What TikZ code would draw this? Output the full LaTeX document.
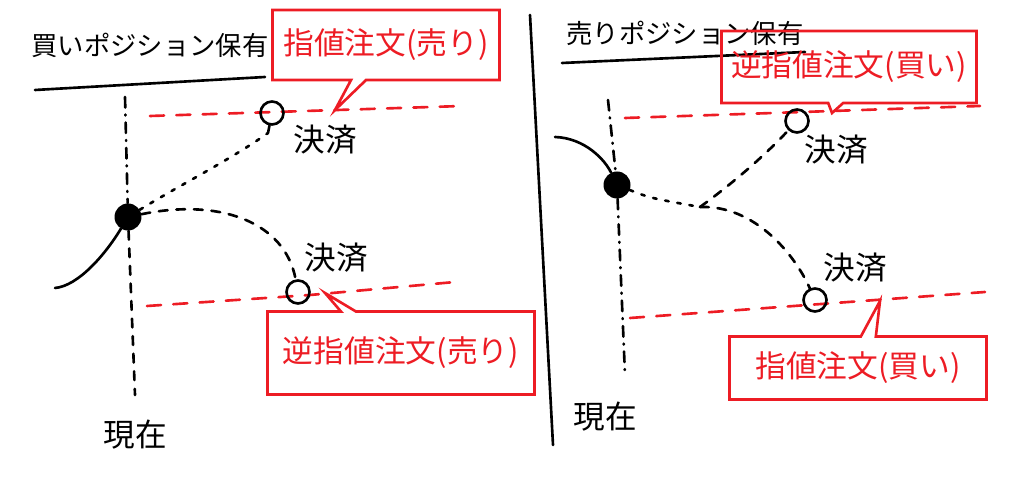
\documentclass[tikz,border=0pt]{standalone}
\usepackage{fontspec}
\setmainfont{Noto Sans CJK JP}
\usetikzlibrary{positioning,shapes.callouts}
\definecolor{penred}{RGB}{237,28,36}

\begin{document}
\begin{tikzpicture}[
    x=0.02cm, y=-0.02cm,
    pen/.style={line width=1.5pt, line cap=round},
    chain/.style={pen, dash pattern=on 6pt off 4pt on 0.5pt off 4pt},
    dashes/.style={pen, dash pattern=on 5pt off 5pt},
    dots/.style={pen, dash pattern=on 2pt off 5pt},
    level/.style={pen, penred, dash pattern=on 8pt off 7pt},
    title/.style={font=\fontsize{15}{17}\selectfont, inner sep=1pt},
    label/.style={font=\fontsize{18}{20}\selectfont, inner sep=1pt},
    now/.style={circle, fill, minimum size=0.54cm, inner sep=0pt},
    exit/.style={circle, draw, line width=1.5pt, minimum size=0.46cm, inner sep=0pt},
    note/.style={
      rectangle callout, draw=penred, text=penred, line width=1.5pt,
      callout pointer width=0.3cm, font=\fontsize{17.5}{19}\selectfont,
      inner sep=0pt
    },
  ]
    \useasboundingbox (0,0) rectangle (1024,502);

    % buying side
    \node[title](buyTitle) at (150,45) {買いポジション保有};
    \coordinate (buyLineA) at (35,90);
    \coordinate (buyLineB) at (265,77);
    \draw[pen] (buyLineA) -- (buyLineB);

    \node[now](buyNow) at (128,217) {};
    \coordinate (buyTop) at (125,97);
    \coordinate (buyBottom) at (135,395);
    \coordinate (buyPast) at (55,288);
    \draw[chain] (buyTop) -- (buyNow);
    \draw[dashes] (buyNow) -- (buyBottom);
    \draw[pen] (buyPast) .. controls (78,286) and (105,255) .. (buyNow);
    \node[label, below=0.45cm of buyBottom](buyNowLbl){現在};

    \coordinate (buyTpA) at (150,116);
    \coordinate (buyTpB) at (462,106);
    \coordinate (buyTpTip) at (335,110);
    \draw[level] (buyTpA) -- (buyTpB);
    \node[note, minimum width=4.54cm, minimum height=1.4cm,
      callout absolute pointer={(buyTpTip)}](buyTpNote) at (386,45) {指値注文(売り)};

    \coordinate (buySlA) at (147,306);
    \coordinate (buySlB) at (310,295);
    \coordinate (buySlC) at (455,282);
    \coordinate (buySlTip) at (325,293);
    \draw[level] (buySlA) -- (buySlB) -- (buySlC);
    \node[note, minimum width=5.34cm, minimum height=1.66cm,
      callout absolute pointer={(buySlTip)}](buySlNote) at (401,353) {逆指値注文(売り)};

    \node[exit](buyTake) at (272,113) {};
    \coordinate (buyTakeStem) at (268,133);
    \draw[pen] (buyTake) -- (buyTakeStem);
    \node[label](buyTakeLbl) at (325,140) {決済};
    \draw[dots] (buyNow) .. controls (180,185) and (230,160) .. (buyTakeStem);

    \node[exit](buyStop) at (298,292) {};
    \node[label](buyStopLbl) at (336,258) {決済};
    \draw[dashes] (buyNow) .. controls (220,198) and (285,222) .. (buyStop);

    % divider
    \coordinate (divTop) at (530,15);
    \coordinate (divBottom) at (553,445);
    \draw[pen] (divTop) -- (divBottom);

    % selling side
    \node[title](sellTitle) at (685,33) {売りポジション保有};
    \coordinate (sellLineA) at (562,63);
    \coordinate (sellLineB) at (805,52);
    \draw[pen] (sellLineA) -- (sellLineB);

    \node[now](sellNow) at (617,185) {};
    \coordinate (sellTop) at (608,100);
    \coordinate (sellBottom) at (625,375);
    \coordinate (sellPast) at (555,137);
    \draw[chain] (sellTop) -- (sellNow) -- (sellBottom);
    \draw[pen] (sellPast) .. controls (585,138) and (605,160) .. (sellNow);
    \node[label, below=0.5cm of sellBottom, xshift=-0.4cm](sellNowLbl){現在};

    \coordinate (sellSlA) at (625,118);
    \coordinate (sellSlB) at (980,106);
    \coordinate (sellSlTip) at (832,113);
    \draw[level] (sellSlA) -- (sellSlB);
    \node[note, minimum width=5.1cm, minimum height=1.44cm,
      callout absolute pointer={(sellSlTip)}](sellSlNote) at (849,67) {逆指値注文(買い)};

    \coordinate (sellTpA) at (630,318);
    \coordinate (sellTpB) at (985,292);
    \coordinate (sellTpTip) at (880,301);
    \draw[level] (sellTpA) -- (sellTpB);
    \node[note, minimum width=5.14cm, minimum height=1.26cm,
      callout absolute pointer={(sellTpTip)}](sellTpNote) at (858,368) {指値注文(買い)};

    \node[exit](sellStop) at (797,121) {};
    \node[label](sellStopLbl) at (836,150) {決済};
    \coordinate (sellTurn) at (700,207);
    \draw[dots] (sellNow) .. controls (650,198) .. (sellTurn);
    \draw[dashes] (sellTurn) .. controls (740,178) and (770,150) .. (sellStop);

    \node[exit](sellTake) at (815,300) {};
    \node[label](sellTakeLbl) at (855,268) {決済};
    \draw[dashes] (sellTurn) .. controls (755,205) and (795,255) .. (sellTake);
\end{tikzpicture}
\end{document}
